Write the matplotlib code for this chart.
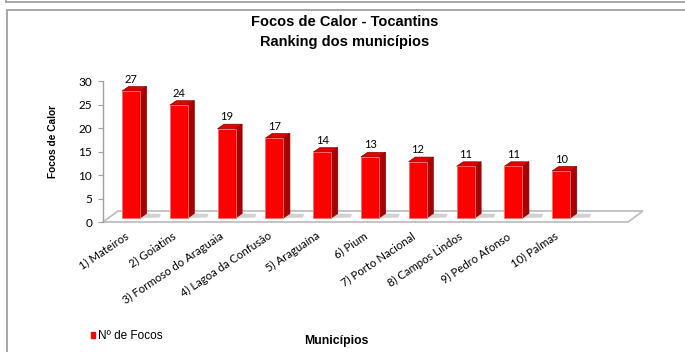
import numpy as np
import matplotlib
matplotlib.use("Agg")
import matplotlib.pyplot as plt
from matplotlib.patches import Polygon, Patch
from matplotlib.lines import Line2D
from matplotlib.transforms import ScaledTranslation

municipios = ["1) Mateiros", "2) Goiatins", "3) Formoso do Araguaia",
              "4) Lagoa da Confusão", "5) Araguaína", "6) Pium",
              "7) Porto Nacional", "8) Campos Lindos", "9) Pedro Afonso",
              "10) Palmas"]
focos = [27, 24, 19, 17, 14, 13, 12, 11, 11, 10]
yticks = [0, 5, 10, 15, 20, 25, 30]

W, H = 685, 352
fig = plt.figure(figsize=(W / 100, H / 100), dpi=100)

# frame lines around the chart
gray = "#A6A6A6"
fig.add_artist(Line2D([6 / W, 1], [1 - 1.5 / H, 1 - 1.5 / H], color=gray, lw=1.4))
fig.add_artist(Line2D([6 / W, 6 / W], [1 - 1.5 / H, 1], color=gray, lw=1.4))
fig.add_artist(Line2D([7 / W, 1], [1 - 9.5 / H, 1 - 9.5 / H], color=gray, lw=1.4))
fig.add_artist(Line2D([7 / W, 7 / W], [0, 1 - 9.5 / H], color=gray, lw=1.4))

# plot area in pixels
x0, x1, y0, y1 = 103, 628, 222, 81
ax = fig.add_axes([x0 / W, 1 - y0 / H, (x1 - x0) / W, (y0 - y1) / H])
xmin, xmax = -0.586, 10.397
ax.set_xlim(xmin, xmax)
ax.set_ylim(0, 30)
ax.patch.set_alpha(0)

# pixel -> data unit conversion for the 3d look
px_x = (x1 - x0) / (xmax - xmin)
px_y = (y0 - y1) / 30
lift = 4 / px_y          # bars stand slightly behind the front floor edge
ddx, ddy = 6.5 / px_x, 4.5 / px_y
fdx, fdy = 15 / px_x, 11 / px_y

# floor
floor = Polygon([(xmin, 0), (xmax, 0), (xmax + fdx, fdy), (xmin + fdx, fdy)],
                closed=True, facecolor="white", edgecolor="#BFBFBF", lw=1.3,
                clip_on=False, zorder=1)
ax.add_patch(floor)

w = 18 / px_x
xs = np.arange(len(focos))
for x, v in zip(xs, focos):
    l, r = x - w / 2, x + w / 2
    b, t = lift, v + lift
    # shadow on the floor
    ax.add_patch(Polygon([(r, b), (r + 3 * ddx, b + 0.1), (r + 3.2 * ddx, b + ddy * 0.9), (r + ddx, b + ddy)],
                         closed=True, facecolor="#9A9A9A", edgecolor="none", alpha=0.45,
                         clip_on=False, zorder=2))
    # side face
    ax.add_patch(Polygon([(r, b), (r + ddx, b + ddy), (r + ddx, t + ddy), (r, t)],
                         closed=True, facecolor="#A80000", edgecolor="#8A0000", lw=0.5,
                         clip_on=False, zorder=3))
    # top face
    ax.add_patch(Polygon([(l, t), (r, t), (r + ddx, t + ddy), (l + ddx, t + ddy)],
                         closed=True, facecolor="#E00000", edgecolor="#8A0000", lw=0.5,
                         clip_on=False, zorder=3))
bars = ax.bar(xs, focos, bottom=lift, width=w, color="#FF0000",
              edgecolor="#FF7070", lw=0.6, zorder=4, clip_on=False)

for x, v in zip(xs, focos):
    ax.annotate(str(v), (x, v), xytext=(0, 11.5), textcoords="offset points",
                ha="center", va="center", fontsize=8, family="Lato")

for s in ["top", "right", "bottom"]:
    ax.spines[s].set_visible(False)
ax.spines["left"].set_color("#A0A0A0")
ax.spines["left"].set_linewidth(1.0)
ax.set_yticks(yticks)
ax.tick_params(axis="y", length=3.6, width=0.8, color="#A0A0A0", pad=4.3,
               labelsize=8.5)
for lab in ax.get_yticklabels():
    lab.set_family("Lato")

ax.set_xticks(xs)
ax.set_xticklabels(municipios, rotation=34, ha="right", rotation_mode="anchor",
                   fontsize=8.2, family="Lato")
ax.tick_params(axis="x", length=0, pad=6)
shift = ScaledTranslation(-7 / 100, 0, fig.dpi_scale_trans)
for lab in ax.get_xticklabels():
    lab.set_transform(lab.get_transform() + shift)

fig.text(345 / W, 1 - 22 / H, "Focos de Calor - Tocantins", ha="center", va="center",
         fontsize=10.5, fontweight="bold", family="Liberation Sans")
fig.text(345 / W, 1 - 42 / H, "Ranking dos municípios", ha="center", va="center",
         fontsize=10.5, fontweight="bold", family="Liberation Sans")
fig.text(53 / W, 1 - 141 / H, "Focos de Calor", ha="center", va="center", rotation=90,
         fontsize=7.3, fontweight="bold", family="Liberation Sans")
fig.text(336 / W, 1 - 341 / H, "Municípios", ha="center", va="center",
         fontsize=8.8, fontweight="bold", family="Liberation Sans")

fig.legend(handles=[Patch(facecolor="#FF0000", edgecolor="#FF0000", label="Nº de Focos")],
           loc="center left", bbox_to_anchor=(80 / W, 1 - 336 / H), frameon=False,
           handlelength=0.35, handleheight=0.35, handletextpad=0.3,
           prop={"family": "Liberation Sans", "size": 8.5})

fig.savefig("out.png", dpi=100)
